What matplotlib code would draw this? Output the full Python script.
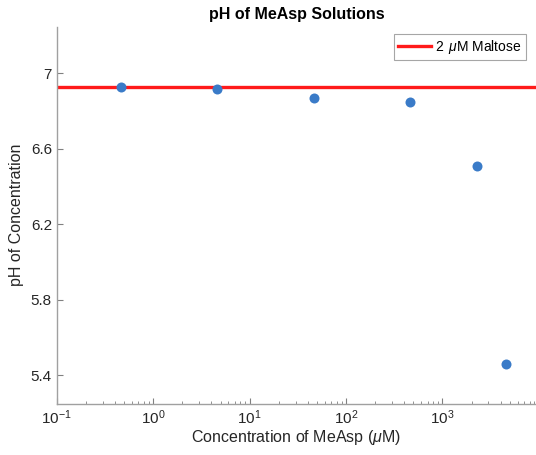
import numpy as np
import matplotlib
matplotlib.use('Agg')
import matplotlib.pyplot as plt

# MeAsp concentrations (uM) and measured pH
conc = [0.46, 4.6, 46, 460, 2300, 4600]
ph = [6.93, 6.92, 6.87, 6.85, 6.51, 5.46]
maltose_ph = 6.929

plt.rcParams['font.family'] = ['Liberation Sans', 'DejaVu Sans']
plt.rcParams['mathtext.fontset'] = 'custom'
plt.rcParams['mathtext.it'] = 'Liberation Sans:italic'
plt.rcParams['mathtext.rm'] = 'Liberation Sans'

fig = plt.figure(figsize=(5.36, 4.55), dpi=100)
ax = fig.add_axes([0.106, 0.113, 0.894, 0.828])

ax.axhline(maltose_ph, color='#ff1a1a', lw=2.4, label=r'2 $\,\mu$M Maltose', zorder=2)
ax.plot(conc, ph, 'o', color='#3a7bc8', ms=7.2, mec='none', zorder=3)

ax.set_xscale('log')
ax.set_xlim(0.1, 10 ** 3.97)
ax.set_ylim(5.25, 7.247)
ax.set_yticks([5.4, 5.8, 6.2, 6.6, 7])
ax.set_yticklabels(['5.4', '5.8', '6.2', '6.6', '7'])

for s in ['top', 'right']:
    ax.spines[s].set_visible(False)
for s in ['left', 'bottom']:
    ax.spines[s].set_color('#a0a0a0')
    ax.spines[s].set_linewidth(1.0)
ax.tick_params(which='both', direction='in', color='#808080', labelsize=11,
               labelcolor='#262626')
ax.tick_params(which='major', length=4)
ax.tick_params(which='minor', length=2.5)

ax.set_title('pH of MeAsp Solutions', fontsize=11.5, fontweight='bold', pad=6)
ax.set_xlabel(r'Concentration of MeAsp ($\mu$M)', fontsize=11.5, color='#262626', labelpad=1)
ax.set_ylabel('pH of Concentration', fontsize=11.5, color='#262626', labelpad=5)

leg = ax.legend(loc='upper right', fontsize=10, frameon=True, fancybox=False,
                handlelength=2.4, handletextpad=0.3, borderpad=0.3, borderaxespad=0,
                bbox_to_anchor=(0.979, 0.981))
leg.get_frame().set_edgecolor('#909090')
leg.get_frame().set_linewidth(0.8)

fig.savefig('out.png', dpi=100)
